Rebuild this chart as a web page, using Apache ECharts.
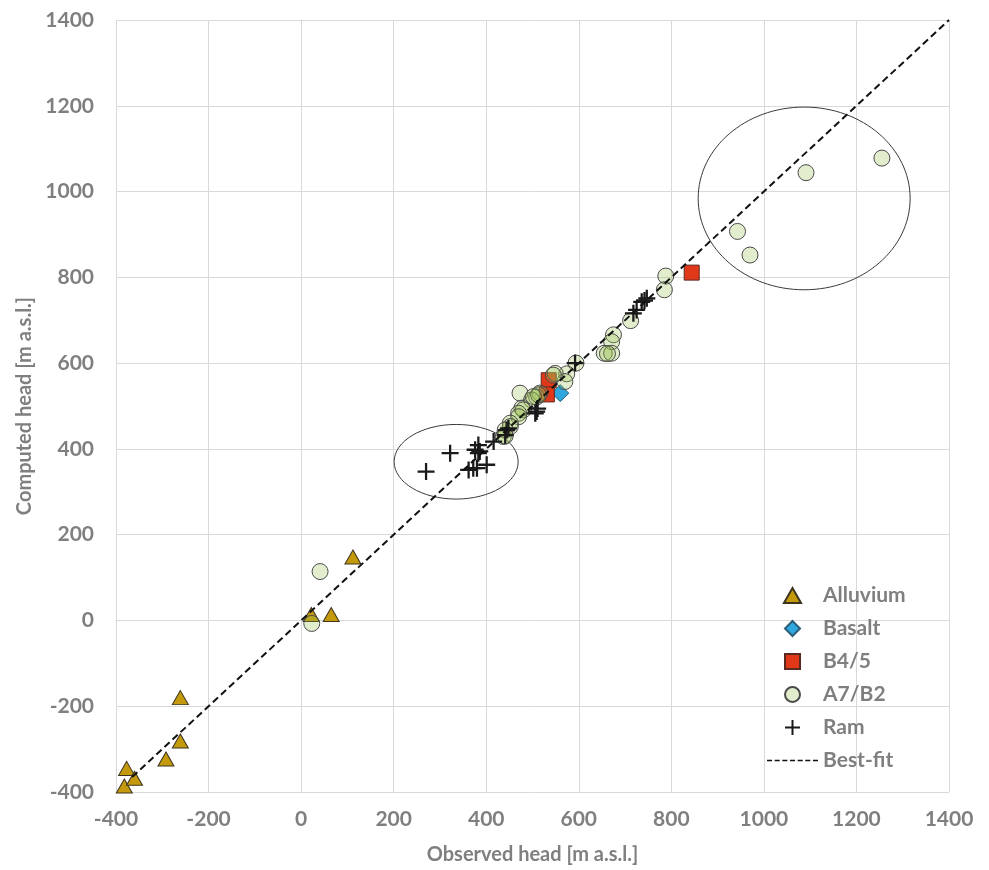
<!DOCTYPE html>
<html>
<head>
<meta charset="utf-8">
<script src="https://cdn.jsdelivr.net/npm/echarts@6/dist/echarts.min.js"></script>
<style>
  html, body { margin: 0; padding: 0; background: #fff; }
  #main { width: 989px; height: 870px; }
</style>
</head>
<body>
<div id="main"></div>
<script>
var chartDom = document.getElementById('main');
var myChart = echarts.init(chartDom);

// observed / computed head values, [x, y] in m a.s.l.
const alluvium = [
    [-382, -386], [-377, -345], [-360, -368], [-292, -323], [-261, -281],
    [-261, -180], [22, 14], [65, 14], [112, 148]
];
const basalt = [
    [560, 530]
];
const b45 = [
    [844, 811], [535, 560], [531, 527]
];
const a7b2 = [
    [41, 114], [23, -7],
    [1255, 1078], [1091, 1044], [943, 907], [970, 852],
    [788, 803], [785, 771], [712, 699],
    [675, 666], [671, 650], [655, 623], [671, 623], [662, 622],
    [594, 600], [574, 575], [570, 557], [549, 576], [545, 572],
    [473, 530], [516, 530], [509, 521], [498, 514], [513, 526], [502, 522],
    [477, 495], [480, 491], [470, 483], [470, 475], [452, 460], [452, 452],
    [441, 444], [437, 429], [441, 430]
];
const ram = [
    [270, 347], [322, 390], [383, 409], [376, 398], [386, 394], [383, 390],
    [362, 351], [372, 355], [380, 355], [401, 363], [416, 417], [441, 432],
    [444, 444], [448, 448], [506, 483], [509, 487], [511, 494], [592, 600],
    [718, 716], [725, 724], [736, 743], [747, 751], [742, 746]
];
const bestFit = [
    [-365, -365], [1400, 1400]
];
// circled groups: centre x, centre y, radius x, radius y (data units)
const circledZones = [
    [1087, 984, 229, 213],
    [335, 370, 134, 87]
];
const axisTicks = [-400, 1400, 200];

const plusPath = 'path://M6.5,0H8.5V6.5H15V8.5H8.5V15H6.5V8.5H0V6.5H6.5Z';
const dashPath = 'path://M0,0H5V1.5H0Z M7.5,0H12.5V1.5H7.5Z M15,0H20V1.5H15Z M22.5,0H27.5V1.5H22.5Z ' +
    'M30,0H35V1.5H30Z M37.5,0H42.5V1.5H37.5Z M45,0H50V1.5H45Z';
const gray = '#7f7f7f';
const font = 'Lato, "Open Sans", sans-serif';

function valueAxis(name, isX) {
    return {
        type: 'value',
        min: axisTicks[0],
        max: axisTicks[1],
        interval: axisTicks[2],
        name: name,
        nameLocation: 'middle',
        nameGap: isX ? 53 : 78,
        nameTextStyle: { color: gray, fontSize: 20, fontWeight: 'bold', fontFamily: font },
        axisLine: { show: true, lineStyle: { color: '#d9d9d9', width: 1 } },
        axisTick: { show: false },
        axisLabel: {
            color: gray, fontSize: 21, fontWeight: 'bold', fontFamily: font, margin: isX ? 17 : 22,
            formatter: function (v) { return String(v); }
        },
        splitLine: { show: true, lineStyle: { color: '#d9d9d9', width: 1 } }
    };
}

var option = {
    animation: false,
    backgroundColor: '#fff',
    grid: { left: 116, right: 40, top: 20, bottom: 78 },
    xAxis: valueAxis('Observed head [m a.s.l.]', true),
    yAxis: valueAxis('Computed head [m a.s.l.]', false),
    legend: {
        orient: 'vertical',
        left: 767,
        top: 585,
        padding: 0,
        itemWidth: 51,
        itemHeight: 15,
        itemGap: 12,
        textStyle: { color: gray, fontSize: 21, fontWeight: 'bold', fontFamily: font, lineHeight: 21 },
        data: [
            { name: 'Alluvium', icon: 'path://M8,0L16,14L0,14Z' },
            { name: 'Basalt', icon: 'path://M7,0L14,7L7,14L0,7Z' },
            { name: 'B4/5', icon: 'path://M0,0H14V14H0Z' },
            { name: 'A7/B2', icon: 'path://M8,0A8,8 0 1,1 7.99,0Z' },
            { name: 'Ram', icon: plusPath },
            { name: 'Best-fit', icon: dashPath }
        ]
    },
    series: [
        {
            name: 'Alluvium', type: 'scatter', symbol: 'triangle', symbolSize: [16, 14],
            itemStyle: { color: '#c49a0c', borderColor: '#3d3520', borderWidth: 1, opacity: 1 },
            data: alluvium
        },
        {
            name: 'Basalt', type: 'scatter', symbol: 'diamond', symbolSize: 17,
            itemStyle: { color: '#2ea7de', borderColor: '#2c5d78', borderWidth: 1, opacity: 1 },
            data: basalt
        },
        {
            name: 'B4/5', type: 'scatter', symbol: 'rect', symbolSize: 15,
            itemStyle: { color: '#e2381a', borderColor: '#5a2a20', borderWidth: 1, opacity: 1 },
            data: b45
        },
        {
            name: 'A7/B2', type: 'scatter', symbol: 'circle', symbolSize: 16,
            itemStyle: { color: 'rgba(150,190,80,0.28)', borderColor: '#4a4a4a', borderWidth: 1, opacity: 1 },
            data: a7b2
        },
        {
            name: 'Ram', type: 'scatter', symbol: plusPath, symbolSize: 17,
            itemStyle: { color: '#1a1a1a', borderWidth: 0, opacity: 1 },
            data: ram
        },
        {
            name: 'Best-fit', type: 'line', symbol: 'none', silent: true,
            lineStyle: { color: '#111', width: 2, type: [7, 4] },
            itemStyle: { color: '#111' },
            data: bestFit
        }
    ]
};

myChart.setOption(option);

// circle the outlying groups, placed through the axes' scales
var ellipses = circledZones.map(function (z) {
    var c = myChart.convertToPixel({ gridIndex: 0 }, [z[0], z[1]]);
    var e = myChart.convertToPixel({ gridIndex: 0 }, [z[0] + z[2], z[1] + z[3]]);
    return {
        type: 'ellipse',
        silent: true,
        z: 1,
        shape: { cx: c[0], cy: c[1], rx: e[0] - c[0], ry: c[1] - e[1] },
        style: { fill: null, stroke: '#3a3a3a', lineWidth: 1 }
    };
});
myChart.setOption({ graphic: ellipses });
</script>
</body>
</html>
